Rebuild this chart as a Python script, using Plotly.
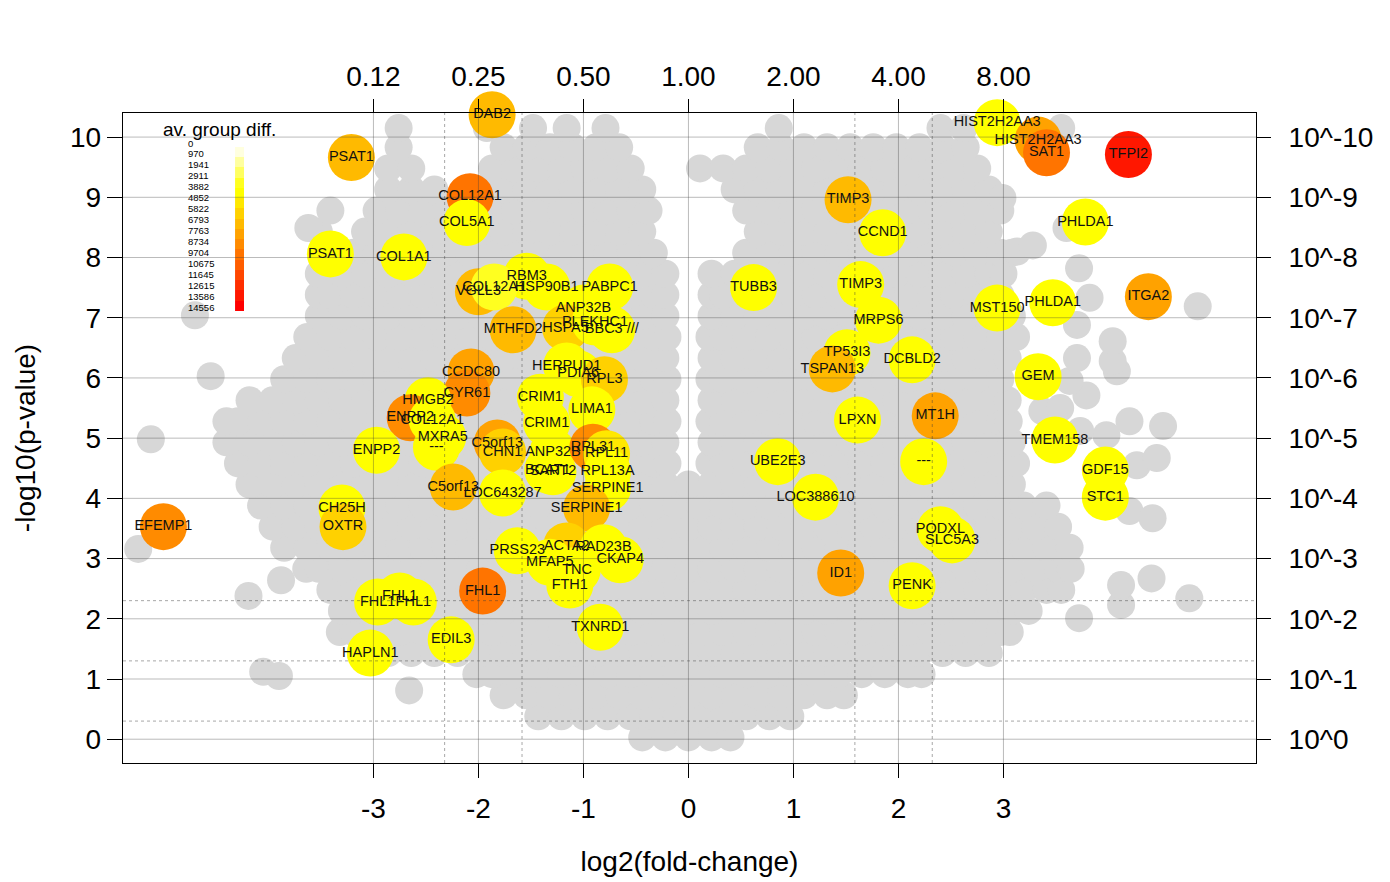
import math
import plotly.graph_objects as go

# ---------------------------------------------------------------- genes of interest
GENE_LABELS = [
    "PSAT1", "DAB2", "COL12A1", "COL5A1", "PSAT1", "COL1A1", "RBM3", "VGLL3", "COL12A1",
    "HSP90B1", "PABPC1", "ANP32B", "MTHFD2", "HSPA5", "PLEKHC1", "BBC3 ///", "HERPUD1",
    "PDIA6", "RPL3", "CCDC80", "CYR61", "HMGB2", "ENPP2", "COL12A1", "CRIM1", "CRIM1",
    "LIMA1", "MXRA5", "---", "ENPP2", "C5orf13", "CHN1", "ANP32B", "RPL31", "RPL11",
    "BCAT1", "SART2", "RPL13A", "SERPINE1", "SERPINE1", "C5orf13", "LOC643287", "CH25H",
    "OXTR", "EFEMP1", "PRSS23", "ACTA2", "RAD23B", "CKAP4", "MFAP5", "TNC", "FTH1",
    "FHL1", "FHL1", "FHL1", "FHL1", "EDIL3", "HAPLN1", "TXNRD1", "TUBB3", "TIMP3",
    "CCND1", "TIMP3", "MRPS6", "TP53I3", "TSPAN13", "DCBLD2", "LPXN", "MT1H", "UBE2E3",
    "---", "LOC388610", "PODXL", "SLC5A3", "ID1", "PENK", "HIST2H2AA3", "HIST2H2AA3",
    "SAT1", "TFPI2", "PHLDA1", "MST150", "PHLDA1", "ITGA2", "GEM", "TMEM158", "GDF15",
    "STC1",
]
GENE_LOG2FC = [
    -3.21, -1.87, -2.08, -2.11, -3.41, -2.71, -1.54, -2.00, -1.85,
    -1.35, -0.75, -1.00, -1.67, -1.17, -0.89, -0.73, -1.16,
    -1.05, -0.80, -2.07, -2.11, -2.48, -2.65, -2.44, -1.41, -1.35,
    -0.92, -2.34, -2.40, -2.97, -1.82, -1.77, -1.29, -0.91, -0.78,
    -1.34, -1.29, -0.77, -0.77, -0.97, -2.24, -1.77, -3.30,
    -3.29, -5.00, -1.63, -1.16, -0.81, -0.65, -1.32, -1.06, -1.13,
    -1.96, -2.75, -2.96, -2.62, -2.26, -3.03, -0.84, 0.62, 1.52,
    1.85, 1.64, 1.81, 1.51, 1.37, 2.13, 1.61, 2.35, 0.85,
    2.24, 1.21, 2.40, 2.51, 1.45, 2.13, 2.94, 3.33,
    3.41, 4.19, 3.78, 2.94, 3.47, 4.38, 3.33, 3.49, 3.97,
    3.97,
]
GENE_NEGLOG10P = [
    9.66, 10.37, 9.01, 8.58, 8.06, 8.01, 7.69, 7.43, 7.51,
    7.51, 7.51, 7.16, 6.80, 6.83, 6.93, 6.80, 6.20,
    6.07, 5.97, 6.10, 5.75, 5.62, 5.34, 5.30, 5.68, 5.25,
    5.47, 5.02, 4.85, 4.80, 4.92, 4.77, 4.77, 4.85, 4.74,
    4.47, 4.44, 4.44, 4.17, 3.84, 4.19, 4.09, 3.84,
    3.53, 3.53, 3.13, 3.21, 3.18, 2.98, 2.94, 2.81, 2.56,
    2.46, 2.38, 2.28, 2.28, 1.65, 1.43, 1.86, 7.50, 8.96,
    8.41, 7.55, 6.96, 6.42, 6.15, 6.30, 5.30, 5.37, 4.61,
    4.61, 4.02, 3.48, 3.31, 2.76, 2.55, 10.24, 9.95,
    9.74, 9.71, 8.59, 7.16, 7.25, 7.35, 6.02, 4.97, 4.47,
    4.02,
]
GENE_GROUP_DIFF = [
    6793, 6793, 9704, 3882, 3882, 3882, 3882, 6793, 2911,
    3882, 3882, 3882, 6793, 5822, 3882, 3882, 3882,
    3882, 5822, 7763, 8734, 3882, 8734, 3882, 3882, 3882,
    3882, 3882, 3882, 3882, 7763, 5822, 3882, 8734, 4852,
    3882, 3882, 3882, 3882, 6793, 6793, 3882, 3882,
    5822, 8734, 3882, 5822, 3882, 3882, 3882, 3882, 3882,
    9704, 3882, 3882, 3882, 3882, 3882, 3882, 3882, 6793,
    3882, 3882, 3882, 3882, 6793, 3882, 3882, 7763, 3882,
    3882, 3882, 3882, 3882, 7763, 3882, 3882, 7763,
    9704, 13586, 3882, 3882, 3882, 7763, 3882, 3882, 3882,
    3882,
]

# labels of genes whose points fall beyond the plotted window
OFFSCALE_LABELS = ["ASNS", "TFPI2", "SERPINE2", "SAT1", "SAT1", "ITGA2"]
OFFSCALE_LOG2FC = [-3.35, 4.91, 5.73, 3.41, 3.96, 4.97]
OFFSCALE_NEGLOG10P = [10.43, 10.42, 8.01, 11.02, 11.88, 12.01]

# ---------------------------------------------------------------- background genes
# (y, [x, ...]) rows of the non-highlighted probes
GREY_ROWS = [
    (0.03, [-0.44, -0.22, 0.00, 0.22, 0.40]),
    (0.38, [-1.43, -1.21, -0.99, -0.77, -0.55, -0.33, -0.11, 0.11, 0.33, 0.55, 0.77, 0.97]),
    (0.73, [-1.76, -1.54, -1.32, -1.10, -0.88, -0.66, -0.44, -0.22, 0.00, 0.22, 0.44, 0.66,
            0.88, 1.10, 1.32, 1.48]),
    (1.08, [-2.02, -1.87, -1.65, -1.43, -1.21, -0.99, -0.77, -0.55, -0.33, -0.11, 0.11, 0.33,
            0.55, 0.77, 0.99, 1.21, 1.43, 1.65, 1.87, 2.09, 2.22]),
    (1.43, [-2.86, -2.64, -2.42, -2.20, -1.98, -1.76, -1.54, -1.32, -1.10, -0.88, -0.66, -0.44,
            -0.22, 0.00, 0.22, 0.44, 0.66, 0.88, 1.10, 1.32, 1.54, 1.76, 1.98, 2.20, 2.42, 2.64,
            2.86]),
    (1.78, [-3.32, -3.19, -2.97, -2.75, -2.53, -2.31, -2.09, -1.87, -1.65, -1.43, -1.21, -0.99,
            -0.77, -0.55, -0.33, -0.11, 0.11, 0.33, 0.55, 0.77, 0.99, 1.21, 1.43, 1.65, 1.87, 2.09,
            2.31, 2.53, 2.75, 2.97, 3.06]),
    (2.13, [-3.30, -3.08, -2.86, -2.64, -2.42, -2.20, -1.98, -1.76, -1.54, -1.32, -1.10, -0.88,
            -0.66, -0.44, -0.22, 0.00, 0.22, 0.44, 0.66, 0.88, 1.10, 1.32, 1.54, 1.76, 1.98, 2.20,
            2.42, 2.64, 2.86, 3.08, 3.24]),
    (2.48, [-3.41, -3.19, -2.97, -2.75, -2.53, -2.31, -2.09, -1.87, -1.65, -1.43, -1.21, -0.99,
            -0.77, -0.55, -0.33, -0.11, 0.11, 0.33, 0.55, 0.77, 0.99, 1.21, 1.43, 1.65, 1.87, 2.09,
            2.31, 2.53, 2.75, 2.97, 3.19, 3.41, 3.55]),
    (2.83, [-3.64, -3.52, -3.30, -3.08, -2.86, -2.64, -2.42, -2.20, -1.98, -1.76, -1.54, -1.32,
            -1.10, -0.88, -0.66, -0.44, -0.22, 0.00, 0.22, 0.44, 0.66, 0.88, 1.10, 1.32, 1.54, 1.76,
            1.98, 2.20, 2.42, 2.64, 2.86, 3.08, 3.30, 3.52, 3.64]),
    (3.18, [-3.85, -3.63, -3.41, -3.19, -2.97, -2.75, -2.53, -2.31, -2.09, -1.87, -1.65, -1.43,
            -1.21, -0.99, -0.77, -0.55, -0.33, -0.11, 0.11, 0.33, 0.55, 0.77, 0.99, 1.21, 1.43, 1.65,
            1.87, 2.09, 2.31, 2.53, 2.75, 2.97, 3.19, 3.41, 3.63]),
    (3.53, [-3.96, -3.74, -3.52, -3.30, -3.08, -2.86, -2.64, -2.42, -2.20, -1.98, -1.76, -1.54,
            -1.32, -1.10, -0.88, -0.66, -0.44, -0.22, 0.00, 0.22, 0.44, 0.66, 0.88, 1.10, 1.32, 1.54,
            1.76, 1.98, 2.20, 2.42, 2.64, 2.86, 3.08, 3.30, 3.52]),
    (3.88, [-4.07, -3.85, -3.63, -3.41, -3.19, -2.97, -2.75, -2.53, -2.31, -2.09, -1.87, -1.65,
            -1.43, -1.21, -0.99, -0.77, -0.55, -0.33, -0.11, 0.11, 0.33, 0.55, 0.77, 0.99, 1.21, 1.43,
            1.65, 1.87, 2.09, 2.31, 2.53, 2.75, 2.97, 3.19, 3.41]),
    (4.23, [-4.18, -3.96, -3.74, -3.52, -3.30, -3.08, -2.86, -2.64, -2.42, -2.20, -1.98, -1.76,
            -1.54, -1.32, -1.10, -0.88, -0.66, -0.44, -0.22, 0.00, 0.22, 0.44, 0.66, 0.88, 1.10, 1.32,
            1.54, 1.76, 1.98, 2.20, 2.42, 2.64, 2.86, 3.08]),
    (4.58, [-4.29, -4.07, -3.85, -3.63, -3.41, -3.19, -2.97, -2.75, -2.53, -2.31, -2.09, -1.87,
            -1.65, -1.43, -1.21, -0.99, -0.77, -0.55, -0.33, -0.20, 0.20, 0.33, 0.55, 0.77, 0.99,
            1.21, 1.43, 1.65, 1.87, 2.09, 2.31, 2.53, 2.75, 2.97, 3.12]),
    (4.93, [-4.40, -4.18, -3.96, -3.74, -3.52, -3.30, -3.08, -2.86, -2.64, -2.42, -2.20, -1.98,
            -1.76, -1.54, -1.32, -1.10, -0.88, -0.66, -0.44, -0.22, 0.22, 0.44, 0.66, 0.88, 1.10,
            1.32, 1.54, 1.76, 1.98, 2.20, 2.42, 2.64, 2.86, 3.08]),
    (5.28, [-4.40, -4.29, -4.07, -3.85, -3.63, -3.41, -3.19, -2.97, -2.75, -2.53, -2.31, -2.09,
            -1.87, -1.65, -1.43, -1.21, -0.99, -0.77, -0.55, -0.33, -0.20, 0.20, 0.33, 0.55, 0.77,
            0.99, 1.21, 1.43, 1.65, 1.87, 2.09, 2.31, 2.53, 2.75, 2.97, 3.05]),
    (5.63, [-4.18, -3.96, -3.74, -3.52, -3.30, -3.08, -2.86, -2.64, -2.42, -2.20, -1.98, -1.76,
            -1.54, -1.32, -1.10, -0.88, -0.66, -0.44, -0.22, 0.22, 0.44, 0.66, 0.88, 1.10, 1.32,
            1.54, 1.76, 1.98, 2.20, 2.42, 2.64, 2.86, 3.04]),
    (5.98, [-3.85, -3.63, -3.41, -3.19, -2.97, -2.75, -2.53, -2.31, -2.09, -1.87, -1.65, -1.43,
            -1.21, -0.99, -0.77, -0.55, -0.33, -0.20, 0.20, 0.33, 0.55, 0.77, 0.99, 1.21, 1.43,
            1.65, 1.87, 2.09, 2.31, 2.53, 2.75, 2.97]),
    (6.33, [-3.74, -3.52, -3.30, -3.08, -2.86, -2.64, -2.42, -2.20, -1.98, -1.76, -1.54, -1.32,
            -1.10, -0.88, -0.66, -0.44, -0.22, 0.22, 0.44, 0.66, 0.88, 1.10, 1.32, 1.54, 1.76, 1.98,
            2.20, 2.42, 2.64, 2.86, 3.04]),
    (6.68, [-3.63, -3.41, -3.19, -2.97, -2.75, -2.53, -2.31, -2.09, -1.87, -1.65, -1.43, -1.21,
            -0.99, -0.77, -0.55, -0.33, -0.20, 0.20, 0.33, 0.55, 0.77, 0.99, 1.21, 1.43, 1.65, 1.87,
            2.09, 2.31, 2.53, 2.75, 2.97, 3.12]),
    (7.03, [-3.52, -3.30, -3.08, -2.86, -2.64, -2.42, -2.20, -1.98, -1.76, -1.54, -1.32, -1.10,
            -0.88, -0.66, -0.44, -0.22, 0.22, 0.44, 0.66, 0.88, 1.10, 1.32, 1.54, 1.76, 1.98, 2.20,
            2.42, 2.64, 2.86, 3.08]),
    (7.38, [-3.52, -3.41, -3.19, -2.97, -2.75, -2.53, -2.31, -2.09, -1.87, -1.65, -1.43, -1.21,
            -0.99, -0.77, -0.55, -0.33, -0.22, 0.22, 0.33, 0.55, 0.77, 0.99, 1.21, 1.43, 1.65, 1.87,
            2.09, 2.31, 2.53, 2.75, 2.97]),
    (7.73, [-3.52, -3.30, -3.08, -2.86, -2.64, -2.42, -2.20, -1.98, -1.76, -1.54, -1.32, -1.10,
            -0.88, -0.66, -0.44, -0.22, 0.22, 0.44, 0.66, 0.88, 1.10, 1.32, 1.54, 1.76, 1.98, 2.20,
            2.42, 2.64, 2.86, 3.00]),
    (8.08, [-3.41, -3.19, -2.97, -2.75, -2.53, -2.31, -2.09, -1.87, -1.65, -1.43, -1.21, -0.99,
            -0.77, -0.55, -0.33, 0.55, 0.77, 0.99, 1.21, 1.43, 1.65, 1.87, 2.09, 2.31, 2.53, 2.75,
            2.97, 3.08]),
    (8.43, [-3.52, -3.08, -2.86, -2.64, -2.42, -2.20, -1.98, -1.76, -1.54, -1.32, -1.10, -0.88,
            -0.66, -0.44, 0.66, 0.88, 1.10, 1.32, 1.54, 1.76, 1.98, 2.20, 2.42, 2.64, 2.86]),
    (8.78, [-3.41, -2.97, -2.75, -2.53, -2.31, -2.09, -1.87, -1.65, -1.43, -1.21, -0.99, -0.77,
            -0.55, -0.38, 0.55, 0.77, 0.99, 1.21, 1.43, 1.65, 1.87, 2.09, 2.31, 2.53, 2.75, 2.97]),
    (9.13, [-2.86, -2.64, -2.42, -1.98, -1.76, -1.54, -1.32, -1.10, -0.88, -0.66, -0.44, 0.44,
            0.66, 0.88, 1.10, 1.32, 1.54, 1.76, 1.98, 2.20, 2.42, 2.64, 2.86]),
    (9.48, [-2.86, -2.64, -1.87, -1.65, -1.43, -1.21, -0.99, -0.77, -0.55, 0.11, 0.33, 0.55,
            0.77, 0.99, 1.21, 1.43, 1.65, 1.87, 2.09, 2.31, 2.53, 2.75]),
    (9.83, [-2.76, -1.76, -1.54, -1.32, -1.10, -0.88, -0.66, 0.66, 0.88, 1.10, 1.32, 1.54, 1.76,
            1.98, 2.20, 2.42, 2.64]),
    (10.15, [-2.76, -1.92, -1.48, -1.16, -0.79, 0.86, 2.40, 2.62, 3.55]),
    (10.42, [-3.30, -2.78, -1.30, -1.10, 2.50, 2.72, 3.05]),
]
GREY_EXTRA_X = [-2.66, -4.05, -3.90, -4.19, -3.88, -5.24, -5.12, -4.55, -4.70, -3.62,
                3.72, 4.12, 4.77, 4.12, 4.41, 4.20, 4.42, 4.27, 4.46, 3.98, 3.73, 4.20,
                4.52, 3.37, 3.54, 3.79, 3.63, 3.70, 4.08, 4.04, 4.04, 3.70, 3.82, 4.85,
                3.72, 3.13, 3.28, 3.60, 2.99]
GREY_EXTRA_Y = [0.81, 1.12, 1.05, 2.38, 2.64, 3.16, 4.98, 6.03, 7.04, 8.49,
                2.01, 2.23, 2.34, 2.56, 2.67, 3.79, 3.67, 4.55, 4.67, 5.05, 5.12, 5.28,
                5.20, 5.45, 5.50, 5.71, 5.95, 6.33, 6.11, 6.28, 6.61, 6.88, 7.33, 7.19,
                7.82, 8.10, 8.20, 8.49, 8.99]

# ---------------------------------------------------------------- scales and ticks
DIFF_LEVELS = [0, 970, 1941, 2911, 3882, 4852, 5822, 6793, 7763, 8734, 9704, 10675,
               11645, 12615, 13586, 14556]
HEAT_COLOURS = ["#FFFFDF", "#FFFF9F", "#FFFF60", "#FFFF20", "#FFFF00", "#FFE800",
                "#FFD100", "#FFBA00", "#FFA200", "#FF8B00", "#FF7400", "#FF5D00",
                "#FF4600", "#FF2E00", "#FF1700", "#FF0000"]
LOG2_TICKS = [-3, -2, -1, 0, 1, 2, 3]
FOLD_TICK_TEXT = ["0.12", "0.25", "0.50", "1.00", "2.00", "4.00", "8.00"]
P_TICKS = list(range(11))
P_TICK_TEXT = ["10^0", "10^-1", "10^-2", "10^-3", "10^-4", "10^-5", "10^-6", "10^-7",
               "10^-8", "10^-9", "10^-10"]
FC_CUTOFFS = [3, 5]             # fold-change guides (dotted)
P_CUTOFFS = [0.5, 0.05, 0.005]  # p-value guides (dotted)

FONT = "Liberation Sans, Arial, Helvetica, sans-serif"
X_RANGE = [-5.385, 5.405]
Y_RANGE = [-0.395, 10.40]

n_levels = len(DIFF_LEVELS)
step = (DIFF_LEVELS[-1] - DIFF_LEVELS[0]) / (n_levels - 1)
cmin = DIFF_LEVELS[0] - step / 2
cmax = DIFF_LEVELS[-1] + step / 2
colorscale = []
for i, c in enumerate(HEAT_COLOURS):
    colorscale.append([i / n_levels, c])
    colorscale.append([(i + 1) / n_levels, c])

grey_x, grey_y = [], []
for yv, xs in GREY_ROWS:
    grey_x.extend(xs)
    grey_y.extend([yv] * len(xs))
grey_x += GREY_EXTRA_X
grey_y += GREY_EXTRA_Y

fig = go.Figure()

fig.add_trace(go.Scatter(
    x=grey_x, y=grey_y, mode="markers",
    marker=dict(size=28, color="#D7D7D7", line=dict(width=0)),
    cliponaxis=False, hoverinfo="skip", showlegend=False,
))

fig.add_trace(go.Scatter(
    x=GENE_LOG2FC, y=GENE_NEGLOG10P, mode="markers",
    marker=dict(size=47, color=GENE_GROUP_DIFF, colorscale=colorscale,
                cmin=cmin, cmax=cmax, line=dict(width=0), showscale=False),
    text=GENE_LABELS, hoverinfo="text",
    cliponaxis=False, showlegend=False,
))

fig.add_trace(go.Scatter(
    x=GENE_LOG2FC, y=GENE_NEGLOG10P, mode="text", text=GENE_LABELS,
    textposition="middle center",
    textfont=dict(family=FONT, size=14.5, color="#111111"),
    cliponaxis=False, hoverinfo="skip", showlegend=False,
))

fig.add_trace(go.Scatter(
    x=OFFSCALE_LOG2FC, y=OFFSCALE_NEGLOG10P, mode="text", text=OFFSCALE_LABELS,
    textposition="middle center",
    textfont=dict(family=FONT, size=14.5, color="#111111"),
    xaxis="x2", yaxis="y2",
    cliponaxis=False, hoverinfo="skip", showlegend=False,
))

# colour key for the average group difference
fig.add_trace(go.Heatmap(
    z=[[v] for v in DIFF_LEVELS], x=[0], y=list(range(n_levels)),
    colorscale=colorscale, zmin=cmin, zmax=cmax, showscale=False,
    xaxis="x3", yaxis="y3", hoverinfo="skip",
))

shapes = []
grid_col = "rgba(60,60,60,0.35)"
for yv in P_TICKS:
    shapes.append(dict(type="line", xref="paper", x0=0, x1=1, yref="y", y0=yv, y1=yv,
                       line=dict(color=grid_col, width=1), layer="above"))
for xv in LOG2_TICKS:
    shapes.append(dict(type="line", yref="paper", y0=0, y1=1, xref="x", x0=xv, x1=xv,
                       line=dict(color=grid_col, width=1), layer="above"))
dot_col = "rgba(60,60,60,0.45)"
for fc in FC_CUTOFFS:
    for xv in (math.log2(fc), -math.log2(fc)):
        shapes.append(dict(type="line", yref="paper", y0=0, y1=1, xref="x", x0=xv, x1=xv,
                           line=dict(color=dot_col, width=1, dash="dot"), layer="above"))
for p in P_CUTOFFS:
    yv = -math.log10(p)
    shapes.append(dict(type="line", xref="paper", x0=0, x1=1, yref="y", y0=yv, y1=yv,
                       line=dict(color=dot_col, width=1, dash="dot"), layer="above"))

annotations = [dict(text="av. group diff.", xref="paper", yref="paper", x=0.0856, y=0.974,
                    showarrow=False, font=dict(family=FONT, size=19, color="black"),
                    xanchor="center", yanchor="middle")]
top_lab, bot_lab = 0.9538, 0.7015
for i, v in enumerate(DIFF_LEVELS):
    annotations.append(dict(text=str(v), xref="paper", yref="paper", x=0.0556,
                            y=top_lab - i * (top_lab - bot_lab) / (n_levels - 1),
                            showarrow=False, xanchor="left", yanchor="middle",
                            font=dict(family=FONT, size=9.5, color="black")))

axis_common = dict(showgrid=False, zeroline=False, ticks="outside", tickcolor="black",
                   tickwidth=1.3, tickfont=dict(family=FONT, size=28, color="black"))

fig.update_layout(
    width=1390, height=882,
    margin=dict(l=123, r=134, t=113, b=119),
    paper_bgcolor="white", plot_bgcolor="white",
    font=dict(family=FONT, color="black"),
    xaxis=dict(range=X_RANGE, tickvals=LOG2_TICKS, ticktext=[str(v) for v in LOG2_TICKS],
               ticklen=14, ticklabelstandoff=6, showline=True, mirror=True,
               linecolor="black", linewidth=1.4,
               title=dict(text="log2(fold-change)", standoff=28,
                          font=dict(family=FONT, size=28, color="black")),
               **axis_common),
    xaxis2=dict(range=X_RANGE, overlaying="x", side="top", tickvals=LOG2_TICKS,
                ticktext=FOLD_TICK_TEXT, ticklen=13, ticklabelstandoff=2,
                showline=False, **axis_common),
    yaxis=dict(range=Y_RANGE, tickvals=P_TICKS, ticktext=[str(v) for v in P_TICKS],
               ticklen=15, showline=True, mirror=True, linecolor="black", linewidth=1.4,
               title=dict(text="-log10(p-value)", standoff=26,
                          font=dict(family=FONT, size=28, color="black")),
               **axis_common),
    yaxis2=dict(range=Y_RANGE, overlaying="y", side="right", tickvals=P_TICKS,
                ticktext=P_TICK_TEXT, ticklen=14, ticklabelstandoff=12,
                showline=False, **axis_common),
    xaxis3=dict(domain=[0.0989, 0.1068], range=[-0.5, 0.5], visible=False,
                anchor="y3", fixedrange=True),
    yaxis3=dict(domain=[0.6954, 0.9477], range=[n_levels - 0.5, -0.5], visible=False,
                anchor="x3", fixedrange=True),
    shapes=shapes,
    annotations=annotations,
    showlegend=False,
)

fig.write_html("out.html")
